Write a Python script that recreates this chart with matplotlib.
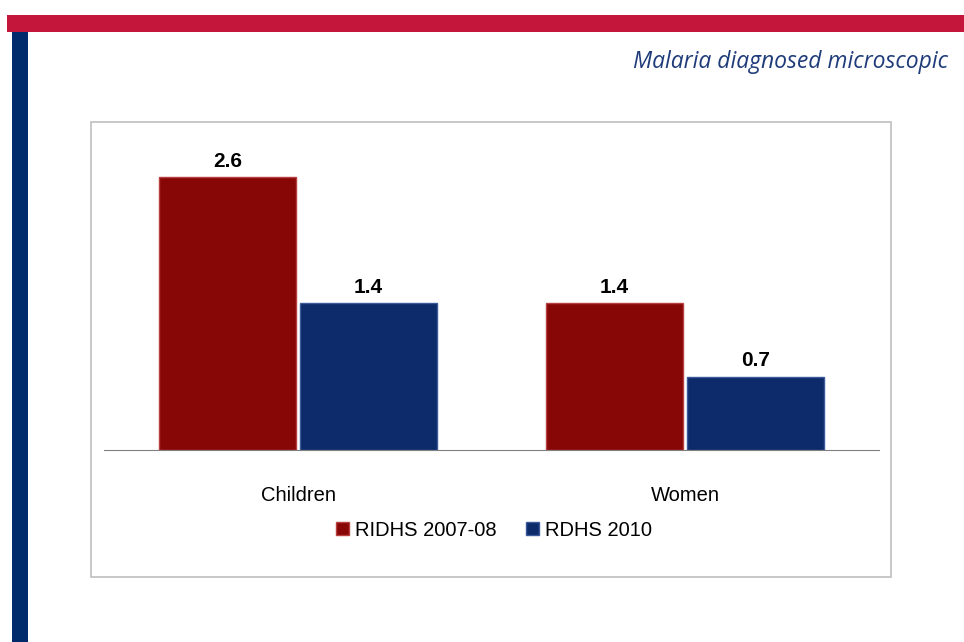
import matplotlib
matplotlib.use("Agg")
import matplotlib.pyplot as plt
from matplotlib.patches import Rectangle
import numpy as np

categories = ["Children", "Women"]
series_names = ["RIDHS 2007-08", "RDHS 2010"]
ridhs_2007 = [2.6, 1.4]
rdhs_2010 = [1.4, 0.7]
title = "Malaria diagnosed microscopic"

W, H = 964, 642
fig = plt.figure(figsize=(W / 100, H / 100), dpi=100)
fig.patch.set_facecolor("white")

# slide decoration: red band at top, blue band on the left
fig.add_artist(Rectangle((7 / W, 1 - 32 / H), 1 - 7 / W, 17 / H,
                         transform=fig.transFigure, color="#C4153A", lw=0))
fig.add_artist(Rectangle((12 / W, 0), 16 / W, 1 - 32 / H,
                         transform=fig.transFigure, color="#002A6C", lw=0))

# chart frame
fig.add_artist(Rectangle((91 / W, 1 - 577 / H), 800 / W, 455 / H,
                         transform=fig.transFigure, fill=False,
                         edgecolor="#BFBFBF", lw=1.2))

fig.text(948 / W, 1 - 62 / H, title, ha="right", va="center",
         fontsize=16.5, style="italic", color="#1F3C7A", family="Open Sans")

ax = fig.add_axes([104.5 / W, 1 - 450 / H, 774 / W, 315 / H])
x = np.arange(len(categories))
w = 0.355
gap = 0.01
colors = ["#870606", "#0D2A6A"]
edges = ["#B84040", "#3A5A9A"]
for i, (vals, name) in enumerate(zip([ridhs_2007, rdhs_2010], series_names)):
    pos = x + (i - 0.5) * (w + gap)
    bars = ax.bar(pos, vals, w, color=colors[i], edgecolor=edges[i],
                  linewidth=1, label=name)
    for b, v in zip(bars, vals):
        ax.text(b.get_x() + b.get_width() / 2, v + 0.06, f"{v:.1f}",
                ha="center", va="bottom", fontsize=15, fontweight="bold",
                family="Liberation Sans")

ax.set_xlim(-0.5, 1.5)
ax.set_ylim(0, 3.0)
ax.set_yticks([])
ax.set_xticks(x)
ax.set_xticklabels(categories, fontsize=14.5, family="Liberation Sans")
ax.tick_params(axis="x", length=0, pad=26)
for s in ["top", "right", "left"]:
    ax.spines[s].set_visible(False)
ax.spines["bottom"].set_color("#808080")
ax.set_facecolor("none")

leg = fig.legend(loc="center", bbox_to_anchor=(494 / W, 1 - 530 / H),
                 ncol=2, frameon=False, handlelength=0.6, handleheight=0.6,
                 handletextpad=0.3, columnspacing=1.5,
                 prop={"family": "Liberation Sans", "size": 14.5})

fig.savefig("out.png", dpi=100)
